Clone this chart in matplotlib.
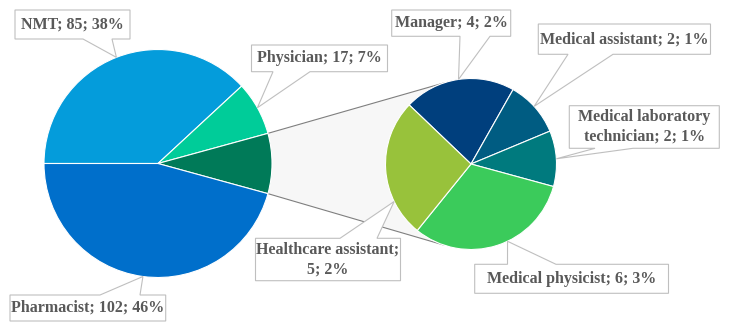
import numpy as np
import matplotlib
matplotlib.use("Agg")
import matplotlib.pyplot as plt
from matplotlib.patches import Polygon

W, H = 729, 326

# ---- data ----
main_categories = ["NMT", "Physician", "Other", "Pharmacist"]
sub_categories = ["Manager", "Medical assistant", "Medical laboratory technician",
                  "Medical physicist", "Healthcare assistant"]
sub_values = [4, 2, 2, 6, 5]
sub_percents = [2, 1, 1, 3, 2]
main_values = [85, 17, sum(sub_values), 102]
main_percents = [38, 7, None, 46]

main_colors = ["#049CDB", "#00CC99", "#007A58", "#006FCB"]
sub_colors = ["#003F7D", "#005C82", "#007A7E", "#3BCB5B", "#98C23B"]

TEXT_COLOR = "#595959"
BOX_EDGE = "#BFBFBF"
FONT = ["Liberation Serif", "DejaVu Serif"]
FS = 11.5

fig = plt.figure(figsize=(W / 100, H / 100), dpi=100)
ax = fig.add_axes([0, 0, 1, 1])


def Y(y):
    return H - y


main_c = (158.0, Y(163.5))
main_r = 114.0
sub_c = (471.0, Y(164.0))
sub_r = 85.5

wp = dict(edgecolor="white", linewidth=0.8)
wm, _ = ax.pie(main_values, colors=main_colors, startangle=180, counterclock=False,
               center=main_c, radius=main_r, wedgeprops=wp, frame=False)
ws, _ = ax.pie(sub_values, colors=sub_colors, startangle=136.3, counterclock=False,
               center=sub_c, radius=sub_r, wedgeprops=wp, frame=False)


def on_circle(c, r, ang):
    a = np.deg2rad(ang)
    return (c[0] + r * np.cos(a), c[1] + r * np.sin(a))


# ---- connector between the "other" slice and the secondary pie ----
other = wm[2]
A_up = on_circle(main_c, main_r, other.theta2)
A_lo = on_circle(main_c, main_r, other.theta1)
B_up = on_circle(sub_c, sub_r, 109)
B_lo = on_circle(sub_c, sub_r, -109)
ax.add_patch(Polygon([A_up, B_up, B_lo, A_lo], closed=True, facecolor="#F7F7F7",
                     edgecolor="none", zorder=0.2))
ax.plot([A_up[0], B_up[0]], [A_up[1], B_up[1]], color="#7F7F7F", lw=0.8, zorder=0.3)
ax.plot([A_lo[0], B_lo[0]], [A_lo[1], B_lo[1]], color="#7F7F7F", lw=0.8, zorder=0.3)


# ---- callouts ----
def label_text(cat, val, pct):
    return f"{cat}; {val}; {pct}%"


labels_main = {c: label_text(c, v, p) for c, v, p in zip(main_categories, main_values, main_percents)}
labels_sub = {c: label_text(c, v, p) for c, v, p in zip(sub_categories, sub_values, sub_percents)}
labels_sub["Medical laboratory technician"] = labels_sub["Medical laboratory technician"].replace(
    "laboratory ", "laboratory\n")
labels_sub["Healthcare assistant"] = labels_sub["Healthcare assistant"].replace("; 5", ";\n5")

# (text, box x0,y0,x1,y1 in pixel (y down), side, base1, base2, pie, tip angle)
callouts = [
    (labels_main["NMT"], (15, 10, 130, 39), "bottom", 83, 112, "main", 111.4),
    (labels_main["Physician"], (251.5, 45, 387.5, 71.7), "bottom", 273, 310, "main", 29.3),
    (labels_main["Pharmacist"], (10, 295, 165.7, 321), "top", 100, 140, "main", 262.4),
    (labels_sub["Manager"], (391.7, 10, 510.7, 36.3), "bottom", 460, 490, "sub", 98.4),
    (labels_sub["Medical assistant"], (538.3, 24, 710.5, 54.3), "bottom", 568, 613, "sub", 42.4),
    (labels_sub["Medical laboratory technician"], (569.3, 105.7, 719.3, 148.3), "bottom", 595, 633, "sub", 3.5),
    (labels_sub["Medical physicist"], (474.7, 264.3, 668.5, 293.3), "top", 507.5, 556, "sub", -64.7),
    (labels_sub["Healthcare assistant"], (255.5, 238.3, 400.5, 280.7), "top", 340, 377, "sub", 206),
]

for text, (x0, y0, x1, y1), side, b1, b2, pie, ang in callouts:
    c, r = (main_c, main_r) if pie == "main" else (sub_c, sub_r)
    tip = on_circle(c, r, ang)
    TL, TR, BR, BL = (x0, Y(y0)), (x1, Y(y0)), (x1, Y(y1)), (x0, Y(y1))
    if side == "bottom":
        verts = [TL, TR, BR, (b2, Y(y1)), tip, (b1, Y(y1)), BL]
    else:
        verts = [TL, (b1, Y(y0)), tip, (b2, Y(y0)), TR, BR, BL]
    ax.add_patch(Polygon(verts, closed=True, facecolor="white", edgecolor=BOX_EDGE,
                         linewidth=0.8, zorder=4, joinstyle="miter"))
    ax.text((x0 + x1) / 2, Y((y0 + y1) / 2), text, ha="center", va="center",
            fontsize=FS, fontweight="bold", color=TEXT_COLOR, family=FONT,
            linespacing=1.3, zorder=5)

ax.set_xlim(0, W)
ax.set_ylim(0, H)
ax.set_aspect("equal")
ax.axis("off")
fig.savefig("out.png", dpi=100, facecolor="white")
